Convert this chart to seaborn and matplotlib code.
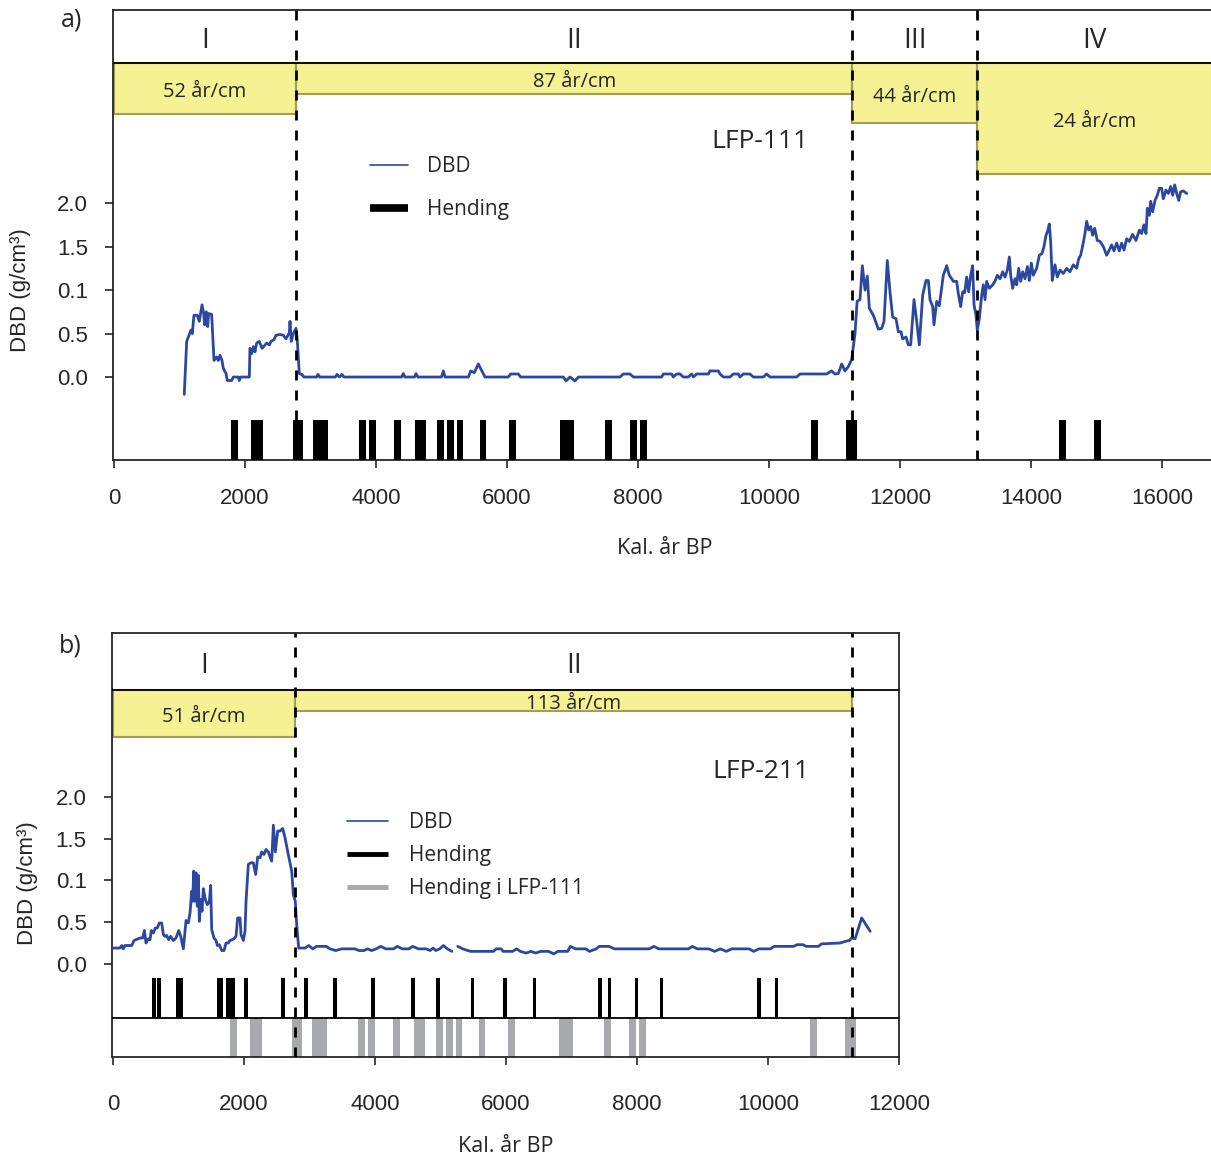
import numpy as np
import pandas as pd
import seaborn as sns
import matplotlib.pyplot as plt
from matplotlib.lines import Line2D

# ---------------- data ----------------
# LFP-111 dry bulk density
dbd_a_year = [1073, 1110, 1145, 1176, 1196, 1221, 1272, 1303, 1344, 1369, 1384, 1409, 1430, 1445, 1491,
              1527, 1567, 1593, 1618, 1649, 1669, 1710, 1730, 1796, 1821, 1898, 1913, 1934, 2066,
              2076, 2102, 2127, 2153, 2178, 2219, 2260, 2331, 2372, 2397, 2443, 2473, 2534, 2585,
              2626, 2677, 2687, 2707, 2738, 2779, 2798, 2829, 2865, 2901,
              3094, 3115, 3140, 3380, 3405, 3440, 3481, 3510, 4390, 4417, 4440, 4590, 4611, 4640,
              5000, 5028, 5055, 5410, 5446, 5501, 5562, 5664, 6020, 6056, 6173, 6209, 6860, 6901,
              6962, 7038, 7089, 7725, 7776, 7878, 7929, 8361, 8387, 8514, 8539, 8590, 8641, 8692,
              8768, 8819, 8845, 8896, 9074, 9099, 9227, 9252, 9303, 9405, 9455, 9531, 9557, 9608,
              9710, 9760, 9913, 9964, 10015, 10422, 10473, 10880, 10957, 11008, 11059, 11110,
              11160, 11211, 11262, 11313, 11345, 11389, 11425, 11466, 11501, 11532, 11593, 11670,
              11720, 11756, 11806, 11847, 11888, 11939, 11975, 12015, 12040, 12092, 12127, 12163,
              12214, 12255, 12295, 12346, 12397, 12433, 12458, 12499, 12519, 12560, 12600, 12661,
              12713, 12753, 12814, 12865, 12890, 12926, 12957, 12987, 13018, 13048, 13079, 13109,
              13130, 13160, 13180, 13211, 13247, 13272, 13298, 13323, 13363, 13415, 13450, 13486,
              13527, 13568, 13603, 13639, 13669, 13690, 13720, 13756, 13781, 13812, 13842, 13873,
              13908, 13944, 13975, 14005, 14035, 14086, 14127, 14168, 14198, 14229, 14259, 14279,
              14300, 14325, 14366, 14401, 14443, 14493, 14545, 14595, 14646, 14697, 14728, 14758,
              14789, 14824, 14850, 14880, 14911, 14941, 14972, 15012, 15053, 15104, 15155, 15195,
              15231, 15267, 15308, 15348, 15384, 15420, 15461, 15501, 15552, 15603, 15654, 15689,
              15725, 15756, 15776, 15806, 15827, 15857, 15893, 15929, 15959, 15995, 16020, 16061,
              16097, 16132, 16163, 16194, 16224, 16255, 16285, 16325, 16377]
dbd_a_value = [-0.20, 0.41, 0.48, 0.54, 0.50, 0.71, 0.71, 0.64, 0.83, 0.73, 0.60, 0.75, 0.58, 0.73, 0.72,
               0.19, 0.23, 0.19, 0.25, 0.19, 0.10, 0.04, -0.04, -0.04, 0.0, 0.0, -0.04, 0.0, 0.0,
               0.33, 0.27, 0.35, 0.29, 0.39, 0.41, 0.33, 0.39, 0.37, 0.41, 0.43, 0.48, 0.49, 0.48,
               0.44, 0.51, 0.64, 0.41, 0.50, 0.56, 0.43, 0.04, 0.03, 0.0,
               0.0, 0.03, 0.0, 0.0, 0.03, 0.0, 0.03, 0.0, 0.0, 0.04, 0.0, 0.0, 0.04, 0.0,
               0.0, 0.07, 0.0, 0.0, 0.07, 0.05, 0.15, 0.0, 0.0, 0.035, 0.035, 0.0, 0.0, -0.045,
               0.0, -0.045, 0.0, 0.0, 0.035, 0.035, 0.0, 0.0, 0.035, 0.035, 0.0, 0.035, 0.035, 0.0,
               0.0, 0.035, 0.0, 0.035, 0.035, 0.07, 0.07, 0.035, 0.0, 0.0, 0.035, 0.035, 0.0, 0.035,
               0.035, 0.0, 0.0, 0.035, 0.0, 0.0, 0.035, 0.035, 0.07, 0.035, 0.04, 0.15,
               0.07, 0.12, 0.20, 0.50, 0.87, 0.89, 1.28, 1.00, 1.16, 0.79, 0.71, 0.55,
               0.56, 0.64, 1.34, 0.98, 0.69, 0.67, 0.52, 0.52, 0.44, 0.46, 0.37, 0.37,
               0.89, 0.64, 0.37, 0.94, 1.11, 1.11, 0.89, 0.81, 0.60, 0.87, 0.82, 1.17,
               1.28, 1.17, 1.10, 1.10, 0.96, 0.81, 0.98, 0.97, 1.15, 0.98, 1.17, 1.28,
               0.83, 0.71, 0.54, 0.67, 0.94, 1.06, 0.89, 1.10, 1.02, 1.06, 1.10, 1.17,
               1.13, 1.21, 1.15, 1.23, 1.38, 1.17, 1.02, 1.13, 1.06, 1.25, 1.10, 1.21,
               1.13, 1.27, 1.11, 1.31, 1.17, 1.25, 1.40, 1.42, 1.50, 1.63, 1.69, 1.76,
               1.56, 1.11, 1.29, 1.15, 1.23, 1.19, 1.25, 1.21, 1.29, 1.25, 1.36, 1.40,
               1.51, 1.65, 1.79, 1.69, 1.73, 1.63, 1.71, 1.57, 1.56, 1.50, 1.40, 1.46,
               1.52, 1.45, 1.54, 1.45, 1.54, 1.46, 1.59, 1.56, 1.64, 1.57, 1.69, 1.65,
               1.75, 1.65, 1.94, 1.86, 2.02, 1.90, 2.03, 2.09, 2.17, 2.17, 2.05, 2.15,
               2.11, 2.19, 2.09, 2.21, 2.11, 2.03, 2.13, 2.14, 2.11]

# events (Hending) in LFP-111, centre years
events_a = [1840, 2145, 2221, 2786, 2832, 3092, 3160, 3214, 3794, 3947, 4328, 4649, 4710, 4985,
            5137, 5282, 5634, 6084, 6863, 6969, 7550, 7931, 8084, 10695, 11229, 11290, 14481, 15015]

# LFP-211 dry bulk density
dbd_b_year = [0, 107, 133, 157, 183, 285, 321, 412, 453, 479, 504, 539, 565, 585, 616, 646, 677,
              707, 743, 769, 794, 820, 850, 881, 921, 962, 1003, 1034, 1074, 1115, 1150, 1176,
              1201, 1216, 1232, 1252, 1267, 1287, 1303, 1318, 1339, 1359, 1379, 1410, 1440, 1471,
              1491, 1507, 1542, 1573, 1593, 1623, 1659, 1695, 1725, 1761, 1786, 1847, 1878, 1903,
              1939, 1954, 1990, 2015, 2031, 2066, 2102, 2142, 2178, 2209, 2244, 2270, 2305, 2336,
              2371, 2397, 2423, 2448, 2478, 2514, 2550, 2591, 2626, 2676, 2728, 2753, 2783, 2804,
              2835, 2931, 2990, 3049, 3107, 3255, 3313, 3401, 3489, 3695, 3753, 3829, 3889, 3947,
              4018, 4089, 4165, 4283, 4341, 4417, 4516, 4575, 4664, 4782, 4840, 4886, 4928, 4986,
              5046, 5104, 5174,
              5263, 5339, 5457, 5809, 5850, 5927, 5955, 6102, 6161, 6220, 6308, 6378, 6455, 6531,
              6649, 6730, 6790, 6942, 6983, 7060, 7218, 7276, 7377, 7423, 7570, 7658, 8187, 8257,
              8333, 8786, 8844, 8921, 9097, 9185, 9273, 9362, 9449, 9713, 9783, 9860, 10037, 10094,
              10389, 10447, 10534, 10583, 10771, 10817, 11100, 11182, 11240, 11277, 11330, 11430,
              11560]
dbd_b_value = [0.19, 0.19, 0.22, 0.18, 0.22, 0.22, 0.28, 0.31, 0.31, 0.40, 0.25, 0.30, 0.29, 0.40,
               0.37, 0.43, 0.43, 0.49, 0.49, 0.35, 0.33, 0.34, 0.29, 0.33, 0.28, 0.31, 0.40, 0.33,
               0.18, 0.52, 0.49, 0.61, 0.87, 0.75, 1.11, 0.75, 1.09, 0.69, 1.06, 0.51, 0.77, 0.63,
               0.90, 0.77, 0.71, 0.74, 0.94, 0.41, 0.31, 0.28, 0.22, 0.23, 0.16, 0.16, 0.25, 0.25,
               0.28, 0.30, 0.33, 0.55, 0.55, 0.35, 0.28, 0.39, 0.75, 1.19, 1.21, 1.21, 1.07, 1.28,
               1.27, 1.34, 1.31, 1.37, 1.34, 1.28, 1.23, 1.66, 1.34, 1.59, 1.59, 1.62, 1.51, 1.31,
               1.11, 0.83, 0.75, 0.47, 0.19, 0.19, 0.22, 0.18, 0.21, 0.21, 0.18, 0.16, 0.18, 0.18,
               0.16, 0.16, 0.18, 0.16, 0.18, 0.21, 0.18, 0.18, 0.21, 0.18, 0.18, 0.21, 0.18, 0.18,
               0.16, 0.19, 0.16, 0.18, 0.22, 0.18, 0.15,
               0.21, 0.18, 0.15, 0.15, 0.18, 0.18, 0.15, 0.15, 0.18, 0.15, 0.13, 0.15, 0.13, 0.15,
               0.15, 0.12, 0.15, 0.15, 0.21, 0.18, 0.18, 0.15, 0.18, 0.21, 0.21, 0.18, 0.18, 0.21,
               0.18, 0.18, 0.21, 0.18, 0.18, 0.15, 0.18, 0.15, 0.18, 0.18, 0.15, 0.18, 0.18, 0.21,
               0.21, 0.23, 0.23, 0.21, 0.21, 0.24, 0.25, 0.27, 0.28, 0.31, 0.30, 0.55, 0.39]
gap_year_b = 5220  # break in the LFP-211 record

# events (Hending) in LFP-211, centre years
events_b = [623, 699, 985, 1038, 1611, 1649, 1756, 1802, 1840, 2035, 2600, 2944, 3394, 3969,
            4576, 4957, 5489, 5985, 6435, 7435, 7580, 7992, 8374, 9863, 10130]

# zones and sedimentation rates
zone_bounds_a = [0, 2780, 11270, 13180, 16760]
zone_names_a = ['I', 'II', 'III', 'IV']
rates_a = [52, 87, 44, 24]
zone_bounds_b = [0, 2780, 11290]
zone_names_b = ['I', 'II']
rates_b = [51, 113]

y_ticks = [0.0, 0.5, 1.0, 1.5, 2.0]
y_ticklabels = ['0.0', '0.5', '0.1', '1.5', '2.0']

# ---------------- style ----------------
sns.set_style("ticks")
plt.rcParams['font.family'] = ['Liberation Sans', 'DejaVu Sans']
plt.rcParams['axes.linewidth'] = 1.3

W, H = 1211, 1158
BLUE = "#2b47a0"
YELLOW = "#f6f193"
OLIVE = "#a29d52"
GREY = "#a7a9ac"
MYR = 'Open Sans'

fig = plt.figure(figsize=(W / 100, H / 100), dpi=100)


def px_axes(left, top, right, bottom):
    return fig.add_axes([left / W, 1 - bottom / H, (right - left) / W, (bottom - top) / H])


def draw_panel(ax, years, values, seg, bounds, names, rates, box_top, box_k, numeral_y, text_dy):
    df = pd.DataFrame({'year': years, 'dbd': values, 'seg': seg})
    sns.lineplot(data=df, x='year', y='dbd', units='seg', estimator=None, sort=False,
                 color=BLUE, lw=2.0, ax=ax, zorder=4)
    ax.axhline(box_top, color='black', lw=1.3, zorder=3)
    for i, (name, rate) in enumerate(zip(names, rates)):
        x0, x1 = bounds[i], bounds[i + 1]
        h = box_k / rate
        ax.bar(x0, -h, bottom=box_top, width=x1 - x0, align='edge', color=YELLOW,
               edgecolor=OLIVE, lw=1.5, zorder=2)
        xc = (x0 + x1) / 2
        ax.text(xc, box_top - h / 2 - text_dy, f'{rate} år/cm', ha='center', va='center',
                family=MYR, fontsize=14.5, zorder=5)
        ax.text(xc, numeral_y, name, ha='center', va='center', family=MYR, fontsize=20)
    for b in bounds[1:]:
        ax.axvline(b, color='black', lw=2.0, ls=(0, (3.6, 3.6)), zorder=6)
    ax.set_yticks(y_ticks)
    ax.set_yticklabels(y_ticklabels)
    ax.set_xlabel('')
    ax.set_ylabel('')
    ax.tick_params(axis='both', direction='out', length=6, width=1.2, labelsize=16)
    ax.tick_params(axis='y', pad=12)


# ---------------- panel a ----------------
ax_a = px_axes(113, 10, 1211, 460)
ax_a.set_xlim(-15, 16748)
ax_a.set_ylim(-0.954, 4.22)
draw_panel(ax_a, dbd_a_year, dbd_a_value, [0] * len(dbd_a_year), zone_bounds_a, zone_names_a,
           rates_a, 3.61, 30.5, 3.86, 0.045)
ax_a.bar(events_a, 0.46, bottom=-0.954, width=105, color='black', lw=0, zorder=3)
ax_a.set_xticks(np.arange(0, 16001, 2000))
ax_a.tick_params(axis='x', pad=14)
ax_a.spines['right'].set_visible(False)
ax_a.text(760 / W, 1 - 142 / H, 'LFP-111', transform=fig.transFigure, ha='center', va='center',
          family=MYR, fontsize=19)
ax_a.legend([Line2D([], [], color=BLUE, lw=1.2),
             Line2D([], [], color='black', lw=5.5, solid_capstyle='butt')],
            ['DBD', 'Hending'], loc='upper left', bbox_to_anchor=(370 / W, 1 - 156 / H),
            bbox_transform=fig.transFigure, frameon=False, borderpad=0, borderaxespad=0,
            handlelength=1.82, handletextpad=0.9, labelspacing=1.05,
            prop={'family': MYR, 'size': 15})

# ---------------- panel b ----------------
ax_b = px_axes(111.7, 633, 899, 1057)
ax_b.set_xlim(-20, 12000)
ax_b.set_ylim(-1.114, 3.96)
seg_b = [int(y > gap_year_b) for y in dbd_b_year]
draw_panel(ax_b, dbd_b_year, dbd_b_value, seg_b, zone_bounds_b, zone_names_b, rates_b,
           3.28, 28.5, 3.56, 0.045)
ax_b.axhline(-0.647, color='black', lw=1.3, zorder=3)
ax_b.bar(events_b, 0.479, bottom=-0.647, width=58, color='black', lw=0, zorder=3)
ax_b.bar(events_a, 0.467, bottom=-1.114, width=105, color=GREY, lw=0, zorder=2)
ax_b.set_xticks(np.arange(0, 12001, 2000))
ax_b.tick_params(axis='x', pad=21)
ax_b.text(761 / W, 1 - 772 / H, 'LFP-211', transform=fig.transFigure, ha='center', va='center',
          family=MYR, fontsize=19)
ax_b.legend([Line2D([], [], color=BLUE, lw=1.2),
             Line2D([], [], color='black', lw=3.5, solid_capstyle='butt'),
             Line2D([], [], color=GREY, lw=3.5, solid_capstyle='butt')],
            ['DBD', 'Hending', 'Hending i LFP-111'], loc='upper left',
            bbox_to_anchor=(347 / W, 1 - 812 / H), bbox_transform=fig.transFigure,
            frameon=False, borderpad=0, borderaxespad=0, handlelength=1.97,
            handletextpad=1.0, labelspacing=0.58, prop={'family': MYR, 'size': 15})

# ---------------- labels ----------------
fig.text(665 / W, 1 - 549 / H, 'Kal. år BP', ha='center', va='center', family=MYR, fontsize=15.5)
fig.text(506 / W, 1 - 1147 / H, 'Kal. år BP', ha='center', va='center', family=MYR, fontsize=15.5)
fig.text(21 / W, 1 - 290 / H, 'DBD (g/cm³)', rotation=90, ha='center', va='center', fontsize=16)
fig.text(28 / W, 1 - 883 / H, 'DBD (g/cm³)', rotation=90, ha='center', va='center', fontsize=16)
fig.text(72 / W, 1 - 20 / H, 'a)', ha='center', va='center', family=MYR, fontsize=18)
fig.text(70 / W, 1 - 646 / H, 'b)', ha='center', va='center', family=MYR, fontsize=18)

fig.savefig('out.png', dpi=100)
